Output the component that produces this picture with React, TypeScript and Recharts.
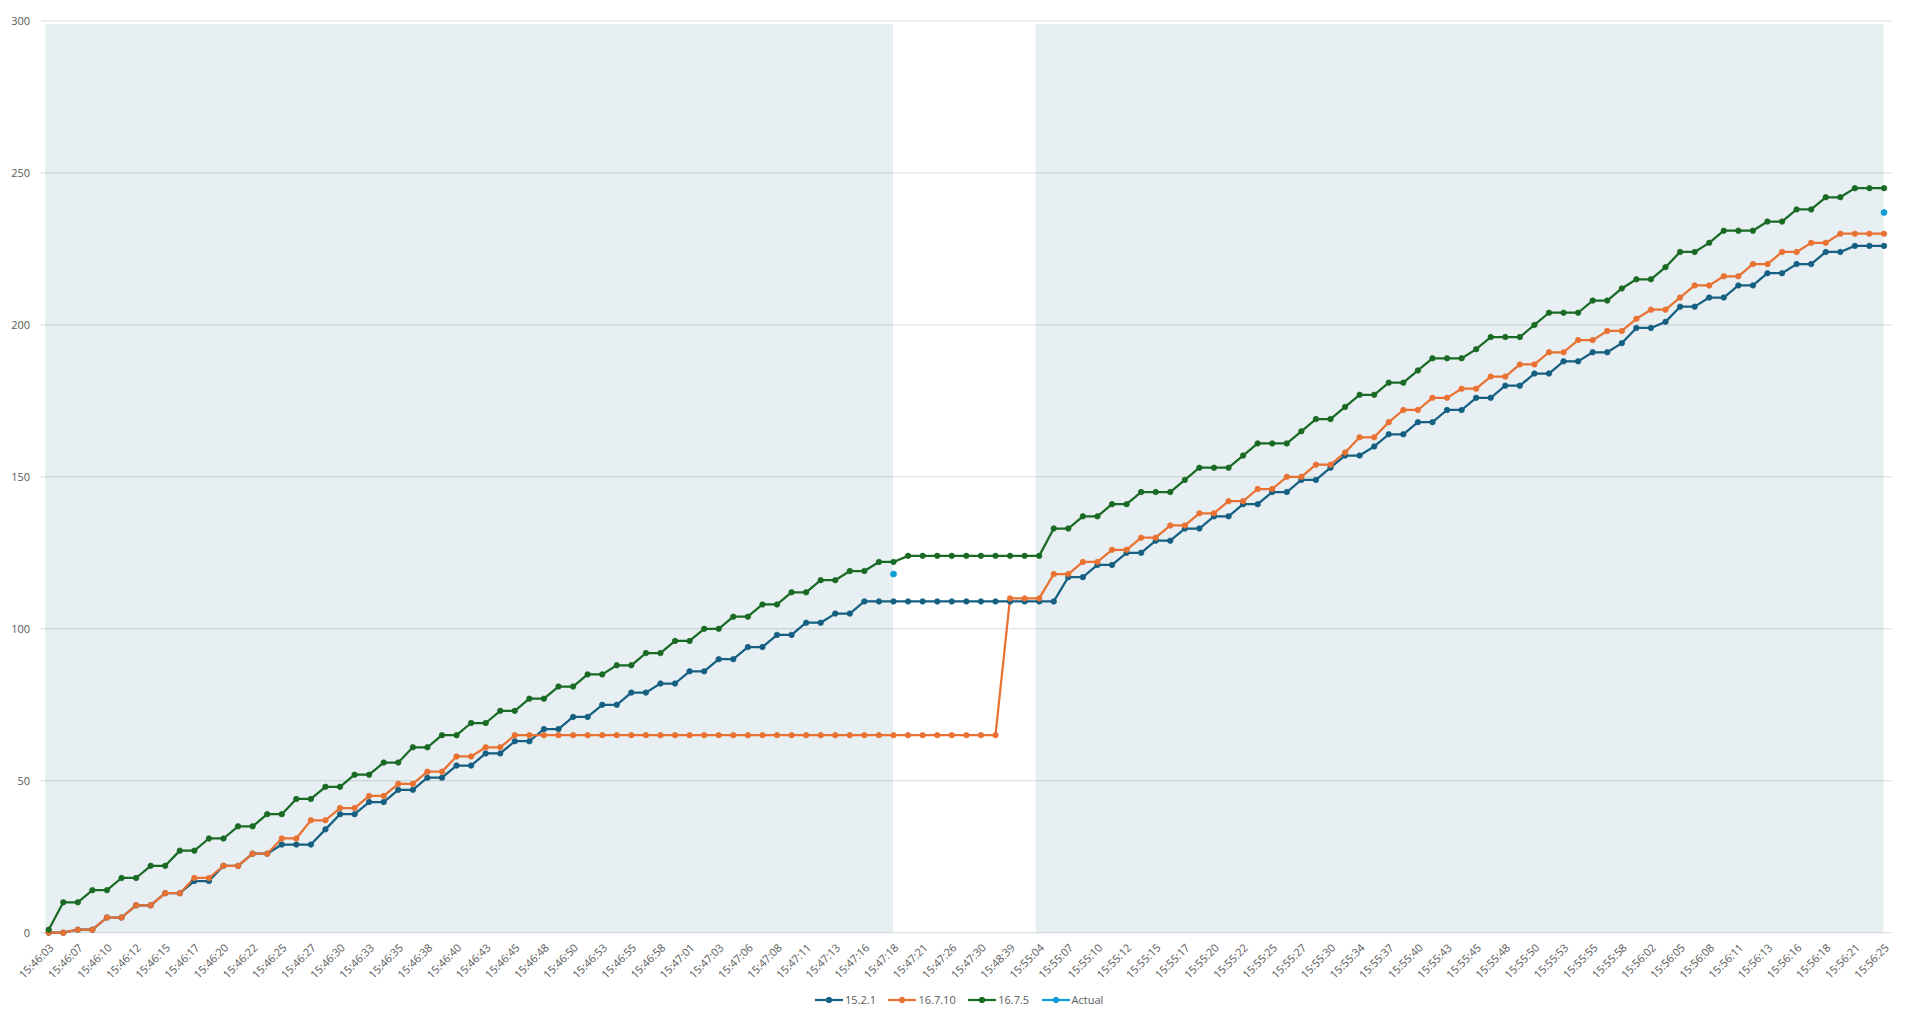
import React from "react";
import { ComposedChart, Line, XAxis, YAxis, CartesianGrid, ReferenceArea } from "recharts";

const timeLabels: string[] = [
  "15:46:03","15:46:05","15:46:07","15:46:08","15:46:10","15:46:11","15:46:12","15:46:13","15:46:15","15:46:16",
  "15:46:17","15:46:18","15:46:20","15:46:21","15:46:22","15:46:23","15:46:25","15:46:26","15:46:27","15:46:28",
  "15:46:30","15:46:31","15:46:33","15:46:34","15:46:35","15:46:36","15:46:38","15:46:39","15:46:40","15:46:41",
  "15:46:43","15:46:44","15:46:45","15:46:46","15:46:48","15:46:49","15:46:50","15:46:51","15:46:53","15:46:54",
  "15:46:55","15:46:56","15:46:58","15:46:59","15:47:01","15:47:02","15:47:03","15:47:04","15:47:06","15:47:07",
  "15:47:08","15:47:09","15:47:11","15:47:12","15:47:13","15:47:14","15:47:16","15:47:17","15:47:18","15:47:19",
  "15:47:21","15:47:23","15:47:26","15:47:28","15:47:30","15:47:34","15:48:39","15:54:58","15:55:04","15:55:06",
  "15:55:07","15:55:08","15:55:10","15:55:11","15:55:12","15:55:13","15:55:15","15:55:16","15:55:17","15:55:18",
  "15:55:20","15:55:21","15:55:22","15:55:23","15:55:25","15:55:26","15:55:27","15:55:28","15:55:30","15:55:32",
  "15:55:34","15:55:35","15:55:37","15:55:38","15:55:40","15:55:41","15:55:43","15:55:44","15:55:45","15:55:46",
  "15:55:48","15:55:49","15:55:50","15:55:51","15:55:53","15:55:54","15:55:55","15:55:56","15:55:58","15:56:00",
  "15:56:02","15:56:03","15:56:05","15:56:06","15:56:08","15:56:09","15:56:11","15:56:12","15:56:13","15:56:14",
  "15:56:16","15:56:17","15:56:18","15:56:19","15:56:21","15:56:23","15:56:25",
];

const v1521: number[] = [
  0,0,1,1,5,5,9,9,13,13,
  17,17,22,22,26,26,29,29,29,34,
  39,39,43,43,47,47,51,51,55,55,
  59,59,63,63,67,67,71,71,75,75,
  79,79,82,82,86,86,90,90,94,94,
  98,98,102,102,105,105,109,109,109,109,
  109,109,109,109,109,109,109,109,109,109,
  117,117,121,121,125,125,129,129,133,133,
  137,137,141,141,145,145,149,149,153,157,
  157,160,164,164,168,168,172,172,176,176,
  180,180,184,184,188,188,191,191,194,199,
  199,201,206,206,209,209,213,213,217,217,
  220,220,224,224,226,226,226,
];

const v16710: number[] = [
  0,0,1,1,5,5,9,9,13,13,
  18,18,22,22,26,26,31,31,37,37,
  41,41,45,45,49,49,53,53,58,58,
  61,61,65,65,65,65,65,65,65,65,
  65,65,65,65,65,65,65,65,65,65,
  65,65,65,65,65,65,65,65,65,65,
  65,65,65,65,65,65,110,110,110,118,
  118,122,122,126,126,130,130,134,134,138,
  138,142,142,146,146,150,150,154,154,158,
  163,163,168,172,172,176,176,179,179,183,
  183,187,187,191,191,195,195,198,198,202,
  205,205,209,213,213,216,216,220,220,224,
  224,227,227,230,230,230,230,
];

const v1675: number[] = [
  1,10,10,14,14,18,18,22,22,27,
  27,31,31,35,35,39,39,44,44,48,
  48,52,52,56,56,61,61,65,65,69,
  69,73,73,77,77,81,81,85,85,88,
  88,92,92,96,96,100,100,104,104,108,
  108,112,112,116,116,119,119,122,122,124,
  124,124,124,124,124,124,124,124,124,133,
  133,137,137,141,141,145,145,145,149,153,
  153,153,157,161,161,161,165,169,169,173,
  177,177,181,181,185,189,189,189,192,196,
  196,196,200,204,204,204,208,208,212,215,
  215,219,224,224,227,231,231,231,234,234,
  238,238,242,242,245,245,245,
];

const actualTimes: string[] = ["15:47:18", "15:56:25"];
const actualValues: number[] = [118, 237];

const shadedPeriods: [string, string][] = [
  ["15:46:03", "15:47:18"],
  ["15:55:04", "15:56:25"],
];

const yTicks: number[] = [0, 50, 100, 150, 200, 250, 300];

const series = [
  { key: "s1521", name: "15.2.1", color: "#156082" },
  { key: "s16710", name: "16.7.10", color: "#E97132" },
  { key: "s1675", name: "16.7.5", color: "#196B24" },
  { key: "actual", name: "Actual", color: "#0F9ED5" },
];

const data = timeLabels.map((t, i) => {
  const ai = actualTimes.indexOf(t);
  return {
    t,
    s1521: v1521[i],
    s16710: v16710[i],
    s1675: v1675[i],
    actual: ai >= 0 ? actualValues[ai] : null,
  };
});

const FONT = "'Open Sans', sans-serif";
const TEXT = "#595959";

const XTick = (props: any) => {
  const { x, y, payload } = props;
  return (
    <g transform={`translate(${x + 3},${y + 13})`}>
      <text
        x={0}
        y={0}
        dy="0.35em"
        textAnchor="end"
        transform="rotate(-45)"
        fill={TEXT}
        fontSize={11}
        fontFamily={FONT}
      >
        {payload.value}
      </text>
    </g>
  );
};

const ShadeShape = (props: any) => {
  const { x, y, width, height } = props;
  return (
    <rect
      x={x - 3.5}
      y={y}
      width={Math.max(0, width + 3)}
      height={height}
      fill="#156082"
      fillOpacity={0.1}
      stroke="none"
    />
  );
};

const LegendBox = () => (
  <div
    style={{
      position: "absolute",
      left: 815,
      top: 992,
      height: 16,
      display: "flex",
      alignItems: "center",
      fontFamily: FONT,
      fontSize: 11,
      color: TEXT,
      whiteSpace: "nowrap",
    }}
  >
    {series.map((s) => (
      <div key={s.key} style={{ display: "flex", alignItems: "center", marginRight: 12.5 }}>
        <svg width={28} height={10} style={{ display: "block" }}>
          <line x1={0} y1={5} x2={28} y2={5} stroke={s.color} strokeWidth={2.25} />
          <circle cx={14} cy={5} r={2.75} fill={s.color} stroke={s.color} />
        </svg>
        <span style={{ marginLeft: 2, lineHeight: "16px" }}>{s.name}</span>
      </div>
    ))}
  </div>
);

export default function App() {
  return (
    <div
      style={{
        position: "fixed",
        left: 0,
        top: 0,
        width: 1921,
        height: 1017,
        background: "#ffffff",
        overflow: "hidden",
      }}
    >
      <ComposedChart
        width={1921}
        height={1017}
        data={data}
        margin={{ top: 21, right: 29, left: 0, bottom: 0 }}
      >
        <CartesianGrid vertical={false} stroke="#D9D9D9" strokeWidth={1} />
        {shadedPeriods.map(([a, b], i) => (
          <ReferenceArea
            key={i}
            x1={a}
            x2={b}
            y1={0}
            y2={299}
            shape={<ShadeShape />}
          />
        ))}
        <XAxis
          dataKey="t"
          type="category"
          scale="point"
          padding={{ left: 7.7, right: 8 }}
          interval={1}
          tick={<XTick />}
          tickLine={false}
          axisLine={false}
          tickSize={0}
          tickMargin={0}
          height={84.3}
        />
        <YAxis
          type="number"
          domain={[0, 300]}
          ticks={yTicks}
          width={41}
          tickLine={false}
          axisLine={false}
          tickSize={0}
          tickMargin={11}
          tick={{ fill: TEXT, fontSize: 11, fontFamily: FONT }}
        />
        {series.map((s) => (
          <Line
            key={s.key}
            type="linear"
            dataKey={s.key}
            name={s.name}
            stroke={s.color}
            strokeWidth={2.25}
            strokeLinejoin="round"
            dot={{ r: s.key === "actual" ? 3 : 2.75, fill: s.color, stroke: s.color, strokeWidth: 0.75 }}
            activeDot={false}
            connectNulls={false}
            isAnimationActive={false}
          />
        ))}
      </ComposedChart>
      <LegendBox />
    </div>
  );
}
